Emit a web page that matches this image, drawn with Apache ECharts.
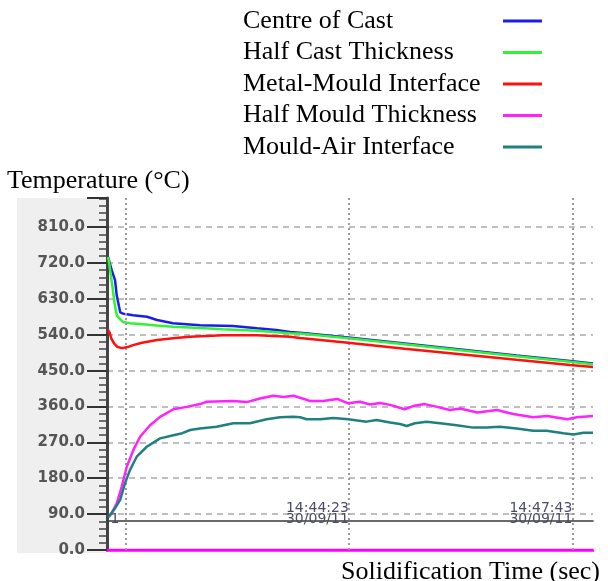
<!DOCTYPE html>
<html>
<head>
<meta charset="utf-8">
<script src="https://cdn.jsdelivr.net/npm/echarts@6/dist/echarts.min.js"></script>
<style>
  html, body { margin: 0; padding: 0; background: #fff; }
  #chart { width: 608px; height: 581px; }
</style>
</head>
<body>
<div id="chart"></div>
<script>
// ---- data (time in seconds from 14:41:03, temperature in °C) ----
const seriesNames = ['Centre of Cast', 'Half Cast Thickness', 'Metal-Mould Interface', 'Half Mould Thickness', 'Mould-Air Interface'];

const centreTime = [-15.5, -12, -9.2, -7.7, -5.6, -4.5, -2, 0, 7, 19.4, 28.4, 42.7, 66.8, 96.4, 117.8, 135, 147.4, 156.4, 199.4, 250, 300, 350, 398, 418.5];
const centreTemp = [735, 700, 677, 639, 610, 596, 593, 592, 589, 585, 577, 569, 564, 562, 556, 552, 547, 545, 533, 518, 503, 488, 474, 468];

const halfCastTime = [-15.5, -14.5, -13, -11.5, -10, -8.5, -7.4, -5, -2.1, 4, 13.2, 28, 42.7, 66.8, 87.4, 117.8, 147.4, 156.4, 199.4, 250, 300, 350, 398, 418.5];
const halfCastTemp = [735, 720, 690, 660, 627, 600, 588, 580, 572, 569, 567, 563, 560, 557, 554, 550, 544, 543, 531, 516, 501, 486, 472, 466];

const interfaceTime = [-15.5, -14, -12.5, -10, -7.4, -4, -2, 2, 6.9, 15, 28.4, 45, 57.9, 87.4, 117.8, 147.4, 156.4, 199.4, 250, 300, 350, 398, 418.5];
const interfaceTemp = [552, 545, 530, 518, 510, 507, 507, 509, 514, 520, 527, 532, 535, 539, 539, 535, 532, 520, 505, 491, 477, 464, 459];

const halfMouldTime = [-14, -12.2, -7.7, -3.2, 1.3, 7.2, 13.2, 22.1, 31.1, 43, 55, 66.8, 72.8, 96.6, 108.6, 120.5, 132.4, 141.4, 150.3, 156.4, 165, 177, 189.5, 199.5, 210, 219, 228, 237, 250, 257.5, 268, 279, 290.5, 299.5, 315, 332.5, 347, 365, 377.5, 395.5, 404, 418.5];
const halfMouldTemp = [85, 92, 117, 159, 209, 251, 284, 313, 334, 353, 359, 366, 372, 374, 371, 380, 387, 384, 387, 382, 374, 374, 379, 368, 372, 365, 369, 364, 353, 361, 366, 359, 351, 355, 345, 351, 341, 333, 336, 328, 333, 336];

const mouldAirTime = [-15, -13.7, -9.2, -4.7, -0.3, 4.2, 10.2, 19.2, 31.1, 43, 51, 58, 66.8, 81.7, 96.6, 111.5, 126.5, 138.4, 150.3, 156.4, 162.4, 174.3, 186.2, 199.5, 215.8, 224.8, 236.9, 245.8, 251.8, 259.2, 269.6, 281.6, 296.5, 311.4, 323.3, 335.3, 350.2, 365, 377, 392, 401, 410, 418.5];
const mouldAirTemp = [82, 88, 105, 125, 167, 201, 234, 259, 280, 288, 293, 301, 305, 309, 318, 318, 328, 333, 334, 333, 328, 328, 331, 328, 322, 326, 320, 316, 311, 318, 322, 318, 313, 307, 307, 309, 305, 299, 299, 293, 290, 294, 294];

const bottomTraceTemp = 0;                 // flat magenta trace along 0 °C
const yTicks = [0, 90, 180, 270, 360, 450, 540, 630, 720, 810];
const cursorTimes = [0, 200, 400];           // dotted time cursors
const stampTimes = [-5.2, 200, 400];
const stampLabels = ['1', '14:44:23\n30/09/11', '14:47:43\n30/09/11'];

const colors = ['#1c1cf0', '#33f233', '#ff1010', '#ff22ff', '#1f8080'];

function zip(t, v) { return t.map((x, i) => [x, v[i]]); }

const chart = echarts.init(document.getElementById('chart'), null, { renderer: 'canvas' });

const dataSets = [
  zip(centreTime, centreTemp),
  zip(halfCastTime, halfCastTemp),
  zip(interfaceTime, interfaceTemp),
  zip(halfMouldTime, halfMouldTemp),
  zip(mouldAirTime, mouldAirTemp)
];

const series = dataSets.map((d, i) => ({
  name: seriesNames[i],
  type: 'line',
  xAxisIndex: 0,
  yAxisIndex: 0,
  data: d,
  showSymbol: false,
  symbol: 'none',
  color: colors[i],
  lineStyle: { width: 2.5, color: colors[i] },
  z: 3 + i,
  animation: false
}));

series[0].markLine = {
  silent: true,
  symbol: 'none',
  label: { show: false },
  lineStyle: { type: [2, 3], color: '#9a9a9a', width: 2 },
  data: cursorTimes.map(t => ({ xAxis: t })),
  animation: false
};

const serif = 'Liberation Serif, Times New Roman, serif';

chart.setOption({
  animation: false,
  backgroundColor: '#ffffff',
  title: [
    { text: 'Temperature (°C)', left: 2, top: 163, textStyle: { fontFamily: serif, fontSize: 26, fontWeight: 'normal', color: '#000' } },
    { text: 'Solidification Time (sec)', right: 3, top: 554, textStyle: { fontFamily: serif, fontSize: 26, fontWeight: 'normal', color: '#000' } }
  ],
  legend: {
    orient: 'vertical',
    left: 238,
    top: 3,
    align: 'right',
    icon: 'rect',
    itemWidth: 39,
    itemHeight: 3,
    itemGap: 5.5,
    data: seriesNames,
    formatter: '{n|{name}}',
    textStyle: {
      fontFamily: serif, fontSize: 26, color: '#000',
      rich: { n: { width: 255, align: 'left', fontFamily: serif, fontSize: 26, lineHeight: 26, color: '#000' } }
    }
  },
  grid: [
    { left: 107, right: 15, top: 198, bottom: 31 },
    { left: 17, width: 90, top: 198, bottom: 28, show: true, backgroundColor: '#efefef', borderWidth: 0, z: -1 }
  ],
  xAxis: [
    {
      type: 'value', gridIndex: 0, min: -16.4, max: 418.5,
      axisLine: { onZero: false, lineStyle: { color: '#ff00ff', width: 2.5 } },
      axisTick: { show: false }, axisLabel: { show: false }, splitLine: { show: false }
    },
    {
      type: 'value', gridIndex: 0, min: -16.4, max: 418.5, position: 'bottom', offset: -29,
      axisLine: { onZero: false, lineStyle: { color: '#3a3a3a', width: 1.5 } },
      axisTick: { show: false },
      splitLine: { show: false },
      axisLabel: {
        inside: true, margin: -4, customValues: stampTimes,
        formatter: v => { const i = stampTimes.indexOf(v); return i >= 0 ? stampLabels[i] : ''; },
        align: 'right', fontFamily: 'DejaVu Sans', fontSize: 14, lineHeight: 11, color: '#4c4c68'
      }
    },
    { type: 'value', gridIndex: 1, show: false }
  ],
  yAxis: [
    {
      type: 'value', gridIndex: 0, min: 0, max: 883, interval: 90,
      axisLine: { show: true, onZero: false, lineStyle: { color: '#444', width: 3 } },
      axisTick: { show: true, length: 20, lineStyle: { color: '#333', width: 2 } },
      minorTick: { show: true, splitNumber: 5, length: 8, lineStyle: { color: '#444', width: 1.5 } },
      axisLabel: {
        margin: 22, showMaxLabel: false,
        formatter: v => (yTicks.indexOf(v) >= 0 ? v.toFixed(1) : ''),
        fontFamily: 'DejaVu Sans', fontSize: 15, fontWeight: 'bold', color: '#555'
      },
      splitLine: { show: true, showMaxLine: false, lineStyle: { type: [6, 5], color: '#aaaaaa', width: 1.5 } }
    },
    { type: 'value', gridIndex: 1, show: false },
    {
      type: 'value', gridIndex: 0, min: 0, max: 883, interval: 90, position: 'left',
      axisLine: { show: false, onZero: false },
      axisTick: { show: true, length: 20, lineStyle: { color: '#333', width: 2 } },
      axisLabel: { show: false }, splitLine: { show: false }
    }
  ],
  series: series.concat([{
    name: 'zero trace', type: 'line', xAxisIndex: 0, yAxisIndex: 0, showSymbol: false, symbol: 'none',
    data: [[-16.4, bottomTraceTemp], [418.5, bottomTraceTemp]],
    lineStyle: { width: 2.5, color: '#ff00ff' }, z: 2, animation: false, silent: true
  }])
});
</script>
</body>
</html>
